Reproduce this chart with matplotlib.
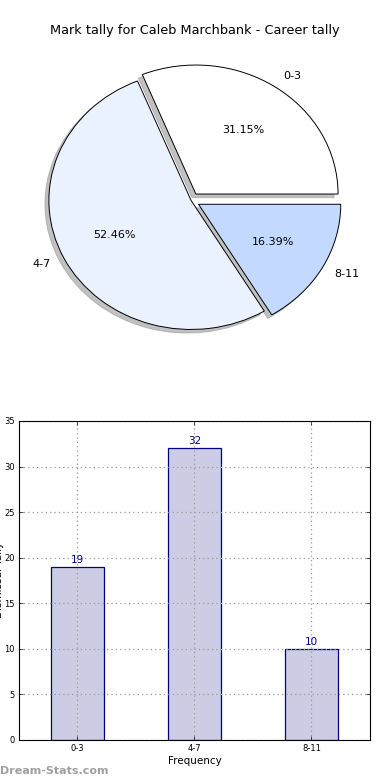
import numpy as np
import matplotlib.pyplot as plt

labels = ['0-3', '4-7', '8-11']
tally = [19, 32, 10]
pie_colors = ['#ffffff', '#eaf1ff', '#c4d9ff']
explode = [0.06, 0, 0.06]
yticks = [0, 5, 10, 15, 20, 25, 30, 35]

fig = plt.figure(figsize=(3.9, 7.8), dpi=100)
fig.patch.set_facecolor('white')

# pie
ax1 = fig.add_axes([0.016, 0.528, 0.948, 0.43])
wedges, texts, autotexts = ax1.pie(tally, labels=labels, colors=pie_colors, explode=explode,
                                   autopct='%1.2f%%', shadow=dict(color='#999999', alpha=0.6),
                                   startangle=0,
                                   wedgeprops=dict(edgecolor='black', linewidth=0.7),
                                   textprops=dict(fontsize=8))
ax1.set_aspect('auto')
ax1.set_xlim(-1.3, 1.3)
ax1.set_ylim(-1.3, 1.3)
fig.text(0.5, 0.961, 'Mark tally for Caleb Marchbank - Career tally', ha='center', va='center', fontsize=9.3)

# bars
ax2 = fig.add_axes([0.0487, 0.0513, 0.9, 0.409])
x = np.arange(len(labels))
ax2.bar(x, tally, width=0.45, color='#ccccE5', edgecolor='navy', linewidth=0.9, zorder=2)
for xi, v in zip(x, tally):
    ax2.text(xi, v + 0.2, str(v), ha='center', va='bottom', color='navy', fontsize=7.5)
ax2.set_xlim(-0.5, 2.5)
ax2.set_ylim(0, 35)
ax2.set_yticks(yticks)
ax2.set_xticks(x)
ax2.set_xticklabels(labels)
ax2.tick_params(labelsize=6, direction='in', length=3, width=0.5, top=True, right=True, pad=3)
ax2.grid(True, linestyle=(0, (1, 2.5)), color='#999999', linewidth=0.9, zorder=3)
ax2.set_axisbelow(False)
ax2.set_xlabel('Frequency', fontsize=7.5, labelpad=2)
for s in ax2.spines.values():
    s.set_linewidth(0.8)
    s.set_zorder(5)
# y label sits partly outside the figure, as in the original
fig.text(-0.002, 0.256, 'Dismissal Tally', rotation=90, ha='center', va='center', fontsize=7.5)

fig.text(0.0, 0.012, 'Dream-Stats.com', color='#a0a0a0', fontsize=8, fontweight='bold', ha='left', va='center')

fig.savefig('out.png', dpi=100)
